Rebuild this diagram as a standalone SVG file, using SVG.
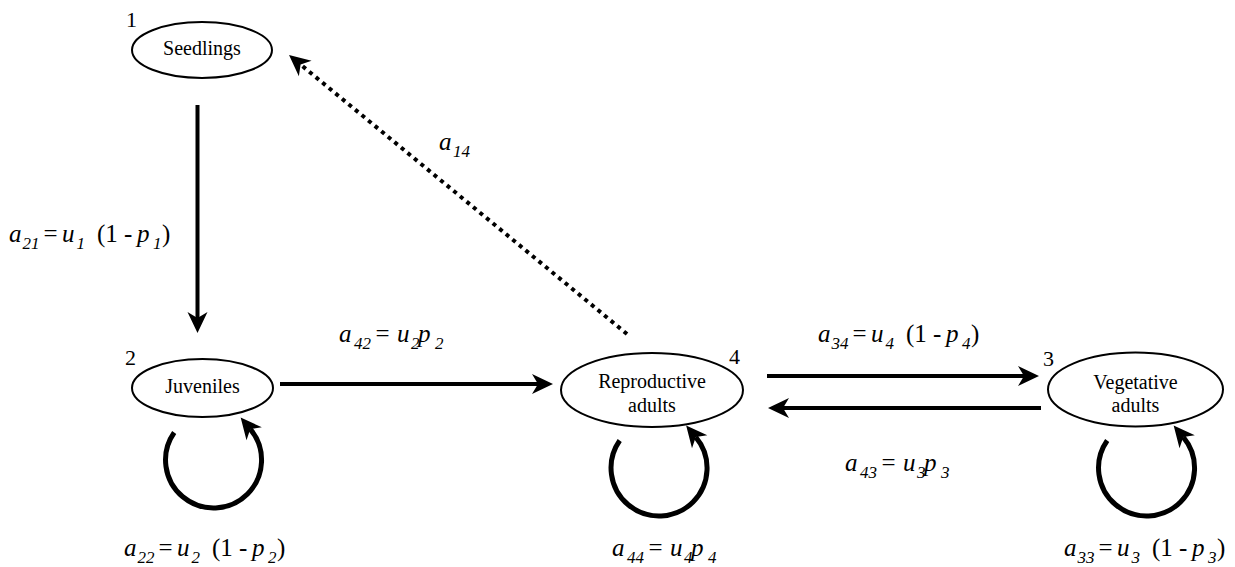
<svg xmlns="http://www.w3.org/2000/svg" width="1235" height="567" viewBox="0 0 1235 567">
<style>
.node{fill:#fff;stroke:#000;stroke-width:2}
.nl{font-family:"Liberation Serif","Times New Roman",serif;font-size:20px;fill:#000;text-anchor:middle}
.num{font-family:"Liberation Serif","Times New Roman",serif;font-size:22px;fill:#000}
.m{font-family:"Liberation Serif","Times New Roman",serif;font-size:25px;fill:#000}
.i{font-style:italic}
.s{font-size:17px;font-style:italic}
.e{fill:none;stroke:#000;stroke-width:4}
.loop{fill:none;stroke:#000;stroke-width:5}
.dot{fill:none;stroke:#000;stroke-width:4;stroke-dasharray:4 4.5}
</style>
<defs>
<marker id="ah" markerUnits="userSpaceOnUse" markerWidth="24" markerHeight="22" refX="6" refY="10" orient="auto" overflow="visible">
<path d="M0,0 L21,10 L0,20 L6,10 Z" fill="#000"/>
</marker>
</defs>
<rect width="1235" height="567" fill="#fff"/>

<g id="connectors">
<line class="e" x1="197.5" y1="105" x2="197.5" y2="318" marker-end="url(#ah)"/>
<line class="e" x1="280" y1="384" x2="538" y2="384" marker-end="url(#ah)"/>
<line class="e" x1="767" y1="376" x2="1024" y2="376" marker-end="url(#ah)"/>
<line class="e" x1="1041" y1="408" x2="783" y2="408" marker-end="url(#ah)"/>
<line class="dot" x1="627" y1="334" x2="300.6" y2="64.6" marker-end="url(#ah)"/>
<path class="loop" d="M174.2,432.5 A48,48 0 1 0 250.3,429.1" marker-end="url(#ah)"/>
<path class="loop" d="M619.7,440.5 A48,48 0 1 0 695.8,437.1" marker-end="url(#ah)"/>
<path class="loop" d="M1107.2,440.5 A48,48 0 1 0 1183.3,437.1" marker-end="url(#ah)"/>
</g>

<g id="node1">
<ellipse class="node" cx="202" cy="50" rx="70" ry="28"/>
<text class="nl" x="202" y="55">Seedlings</text>
<text class="num" x="126" y="27">1</text>
</g>
<g id="node2">
<ellipse class="node" cx="202.5" cy="388" rx="70.5" ry="29"/>
<text class="nl" x="202.5" y="393">Juveniles</text>
<text class="num" x="125" y="365">2</text>
</g>
<g id="node4">
<ellipse class="node" cx="652" cy="390" rx="91" ry="37"/>
<text class="nl" x="652" y="388">Reproductive</text>
<text class="nl" x="652" y="412">adults</text>
<text class="num" x="729" y="364">4</text>
</g>
<g id="node3">
<ellipse class="node" cx="1135.5" cy="389.5" rx="87.5" ry="37"/>
<text class="nl" x="1135.5" y="389">Vegetative</text>
<text class="nl" x="1135.5" y="412">adults</text>
<text class="num" x="1043" y="366">3</text>
</g>

<g id="labels">
<text class="m" x="9" y="242"><tspan class="i">a</tspan><tspan class="s" x="22.5" dy="7">21</tspan><tspan x="43.5" dy="-7">=</tspan><tspan class="i" x="62">u</tspan><tspan class="s" x="76.5" dy="7">1</tspan><tspan x="97" dy="-7">(1 -</tspan><tspan class="i" x="137">p</tspan><tspan class="s" x="153" dy="7">1</tspan><tspan x="162" dy="-7">)</tspan></text>
<text class="m" x="124" y="556"><tspan class="i">a</tspan><tspan class="s" x="137.5" dy="7">22</tspan><tspan x="158.5" dy="-7">=</tspan><tspan class="i" x="177">u</tspan><tspan class="s" x="191.5" dy="7">2</tspan><tspan x="212" dy="-7">(1 -</tspan><tspan class="i" x="252">p</tspan><tspan class="s" x="268" dy="7">2</tspan><tspan x="277" dy="-7">)</tspan></text>
<text class="m" x="1064" y="556"><tspan class="i">a</tspan><tspan class="s" x="1077.5" dy="7">33</tspan><tspan x="1098.5" dy="-7">=</tspan><tspan class="i" x="1117">u</tspan><tspan class="s" x="1131.5" dy="7">3</tspan><tspan x="1152" dy="-7">(1 -</tspan><tspan class="i" x="1192">p</tspan><tspan class="s" x="1208" dy="7">3</tspan><tspan x="1217" dy="-7">)</tspan></text>
<text class="m" x="818" y="342"><tspan class="i">a</tspan><tspan class="s" x="831.5" dy="7">34</tspan><tspan x="852.5" dy="-7">=</tspan><tspan class="i" x="871">u</tspan><tspan class="s" x="885.5" dy="7">4</tspan><tspan x="906" dy="-7">(1 -</tspan><tspan class="i" x="946">p</tspan><tspan class="s" x="962" dy="7">4</tspan><tspan x="971" dy="-7">)</tspan></text>
<text class="m" x="339" y="342"><tspan class="i">a</tspan><tspan class="s" x="354" dy="7">42</tspan><tspan x="375.5" dy="-7">=</tspan><tspan class="i" x="397">u</tspan><tspan class="s" x="411" dy="7">2</tspan><tspan class="i" x="418" dy="-7">p</tspan><tspan class="s" x="435" dy="7">2</tspan></text>
<text class="m" x="845" y="471"><tspan class="i">a</tspan><tspan class="s" x="860" dy="7">43</tspan><tspan x="881.5" dy="-7">=</tspan><tspan class="i" x="903">u</tspan><tspan class="s" x="917" dy="7">3</tspan><tspan class="i" x="924" dy="-7">p</tspan><tspan class="s" x="941" dy="7">3</tspan></text>
<text class="m" x="612" y="556"><tspan class="i">a</tspan><tspan class="s" x="627" dy="7">44</tspan><tspan x="648.5" dy="-7">=</tspan><tspan class="i" x="670">u</tspan><tspan class="s" x="684" dy="7">4</tspan><tspan class="i" x="691" dy="-7">p</tspan><tspan class="s" x="708" dy="7">4</tspan></text>
<text class="m" x="439" y="150"><tspan class="i">a</tspan><tspan class="s" x="453" dy="7">14</tspan></text>
</g>
</svg>
